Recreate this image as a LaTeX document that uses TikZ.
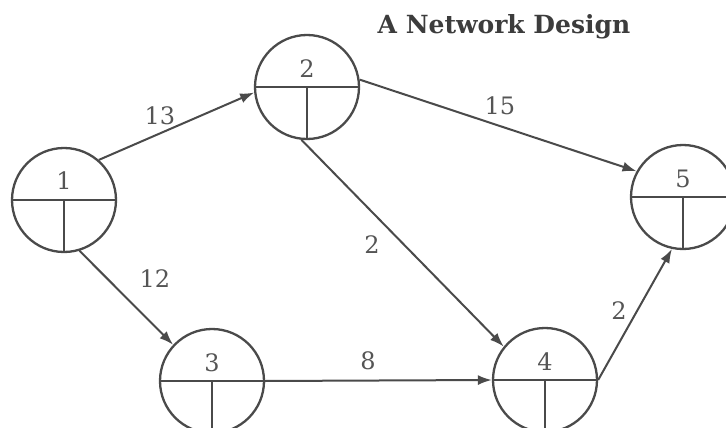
\documentclass[tikz,border=0pt]{standalone}
\usepackage{fontspec}
\newfontfamily\dvserif{DejaVu Serif}
\usetikzlibrary{arrows.meta}
\definecolor{ink}{HTML}{4A4A4A}
\definecolor{txt}{HTML}{555555}
\definecolor{ttlc}{HTML}{3C3C3C}
\begin{document}
\begin{tikzpicture}[x=1pt,y=-1pt,
  evt/.style={circle, draw=ink, line width=2.3pt, minimum size=104pt, inner sep=0pt,
    path picture={\draw[ink, line width=2.3pt]
      (path picture bounding box.west) -- (path picture bounding box.east)
      (path picture bounding box.center) -- (path picture bounding box.south);}},
  num/.style={text=txt, font=\dvserif\fontsize{24}{28}\selectfont, inner sep=0pt},
  arr/.style={draw=ink, line width=2pt, -{Latex[length=14pt,width=10pt]}},
  ttl/.style={text=ttlc, font=\dvserif\bfseries\fontsize{25}{30}\selectfont, inner sep=0pt, anchor=base}
]
\useasboundingbox (0,0) rectangle (726,428);
\clip (0,0) rectangle (726,428);
\fill[white] (0,0) rectangle (726,428);

\node[ttl] (title) at (504,34) {A Network Design};

\node[evt] (n1) at (64,200) {};
\node[evt] (n2) at (307,87) {};
\node[evt] (n3) at (212,381) {};
\node[evt] (n4) at (545,380) {};
\node[evt] (n5) at (683,197) {};

\node[num] (t1) at ([yshift=19pt]n1.center) {1};
\node[num] (t2) at ([yshift=18pt]n2.center) {2};
\node[num] (t3) at ([yshift=18pt]n3.center) {3};
\node[num] (t4) at ([yshift=18pt]n4.center) {4};
\node[num] (t5) at ([yshift=18pt]n5.center) {5};

\draw[arr] (n1.49) -- (n2.186);
\draw[arr] (n2.8) -- (n5.151);
\draw[arr] (n2.264) -- (n4.141);
\draw[arr] (n1.287) -- (n3.137);
\draw[arr] (n3.east) -- (n4.west);
\draw[arr] (n4.east) -- (n5.258);

\node[num] (w12) at (160,116) {13};
\node[num] (w25) at (500,106) {15};
\node[num] (w24) at (372,245) {2};
\node[num] (w13) at (155,279) {12};
\node[num] (w34) at (368,361) {8};
\node[num] (w45) at (619,311) {2};
\end{tikzpicture}
\end{document}
